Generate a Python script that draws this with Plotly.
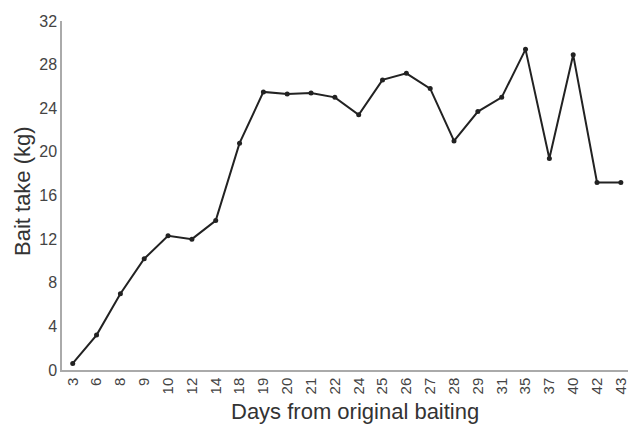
import plotly.graph_objects as go

days = ["3", "6", "8", "9", "10", "12", "14", "18", "19", "20", "21", "22",
        "24", "25", "26", "27", "28", "29", "31", "35", "37", "40", "42", "43"]
bait_take = [0.6, 3.2, 7.0, 10.2, 12.3, 12.0, 13.7, 20.8, 25.5, 25.3, 25.4, 25.0,
             23.4, 26.6, 27.2, 25.8, 21.0, 23.7, 25.0, 29.4, 19.4, 28.9, 17.2, 17.2]
y_ticks = [0, 4, 8, 12, 16, 20, 24, 28, 32]

W, H = 628, 426
ML, MR, MT, MB = 62, 0, 21, 56

fig = go.Figure(go.Scatter(
    x=days, y=bait_take, mode="lines+markers",
    line=dict(color="#222222", width=2),
    marker=dict(color="#222222", size=5),
    cliponaxis=False,
))

fig.update_layout(
    width=W, height=H,
    margin=dict(l=ML, r=MR, t=MT, b=MB, autoexpand=False),
    paper_bgcolor="white", plot_bgcolor="white",
    showlegend=False,
    font=dict(family="Liberation Sans, Arial, sans-serif", color="#444444"),
)
fig.update_xaxes(
    type="category", range=[-0.45, 23.3], automargin=False,
    tickangle=-90, tickfont=dict(size=15, color="#444444"),
    showline=True, linecolor="#aaaaaa", linewidth=1.5,
    showgrid=False, ticks="", zeroline=False,
)
fig.update_yaxes(
    range=[0, 32], tickvals=y_ticks, automargin=False,
    tickfont=dict(size=16, color="#444444"),
    showline=True, linecolor="#aaaaaa", linewidth=1.5,
    showgrid=False, ticks="", zeroline=False,
)
pw = W - ML - MR
ph = H - MT - MB
fig.add_annotation(
    text="Days from original baiting", showarrow=False,
    xref="paper", yref="paper",
    x=(354.5 - ML) / pw, y=(H - MB - 411) / ph,
    xanchor="center", yanchor="middle",
    font=dict(size=22, color="#333333"),
)
fig.add_annotation(
    text="Bait take (kg)", textangle=-90, showarrow=False,
    xref="paper", yref="paper",
    x=(22 - ML) / pw, y=(H - MB - 191) / ph,
    xanchor="center", yanchor="middle",
    font=dict(size=22, color="#333333"),
)

fig.write_html("out.html", config={"displayModeBar": False},
               post_script="document.body.style.margin='0';document.body.style.overflow='hidden';")
